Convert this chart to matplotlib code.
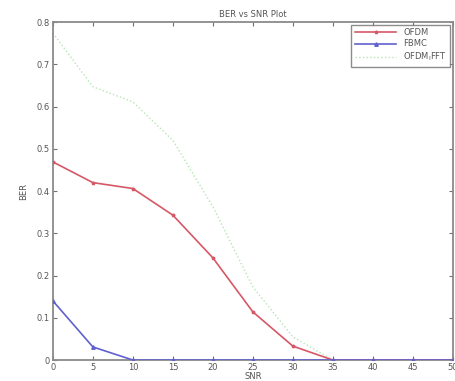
import numpy as np
import matplotlib
matplotlib.use('Agg')
import matplotlib.pyplot as plt

snr = [0, 5, 10, 15, 20, 25, 30, 35, 40, 45, 50]
ber_ofdm = [0.469, 0.42, 0.406, 0.343, 0.242, 0.114, 0.033, 0.0, 0.0, 0.0, 0.0]
ber_fbmc = [0.14, 0.031, 0.0, 0.0, 0.0, 0.0, 0.0, 0.0, 0.0, 0.0, 0.0]
ber_ifft = [0.774, 0.647, 0.611, 0.52, 0.363, 0.173, 0.055, 0.0, 0.0, 0.0, 0.0]

fig = plt.figure(figsize=(4.56, 3.81), dpi=100)
ax = fig.add_axes([0.116, 0.055, 0.877, 0.887])

ax.plot(snr, ber_ifft, ':', color='#b4e6b4', lw=1, label=r'OFDM$_\mathregular{I}$FFT', zorder=2)
ax.plot(snr, ber_ofdm, '-', color='#d65866', lw=1.2, marker='*', ms=2.5, label='OFDM', zorder=3)
ax.plot(snr, ber_fbmc, '-', color='#6060d0', lw=1.2, marker='^', ms=2.5, label='FBMC', zorder=4)

ax.set_xlim(0, 50)
ax.set_ylim(0, 0.8)
ax.set_xticks(np.arange(0, 51, 5))
ax.set_yticks(np.arange(0, 0.81, 0.1))
ax.set_yticklabels(['0', '0.1', '0.2', '0.3', '0.4', '0.5', '0.6', '0.7', '0.8'])
ax.tick_params(direction='in', length=3, width=0.8, color='#707070', labelsize=6,
               labelcolor='#555555', top=True, right=True, pad=2)
for s in ax.spines.values():
    s.set_color('#8a8a8a')
    s.set_linewidth(1.3)

ax.set_title('BER vs SNR Plot', fontsize=6, color='#555555', pad=4)
ax.set_xlabel('SNR', fontsize=6, color='#555555', labelpad=0)
ax.set_ylabel('BER', fontsize=6, color='#555555', labelpad=6)

h, l = ax.get_legend_handles_labels()
order = [1, 2, 0]
leg = ax.legend([h[i] for i in order], [l[i] for i in order], loc='upper right',
                fontsize=6, fancybox=False, edgecolor='#707070', borderaxespad=0.3,
                handlelength=5, labelspacing=0.3)
for t in leg.get_texts():
    t.set_color('#555555')
leg.get_frame().set_linewidth(1.0)

plt.savefig('out.png', dpi=100)
